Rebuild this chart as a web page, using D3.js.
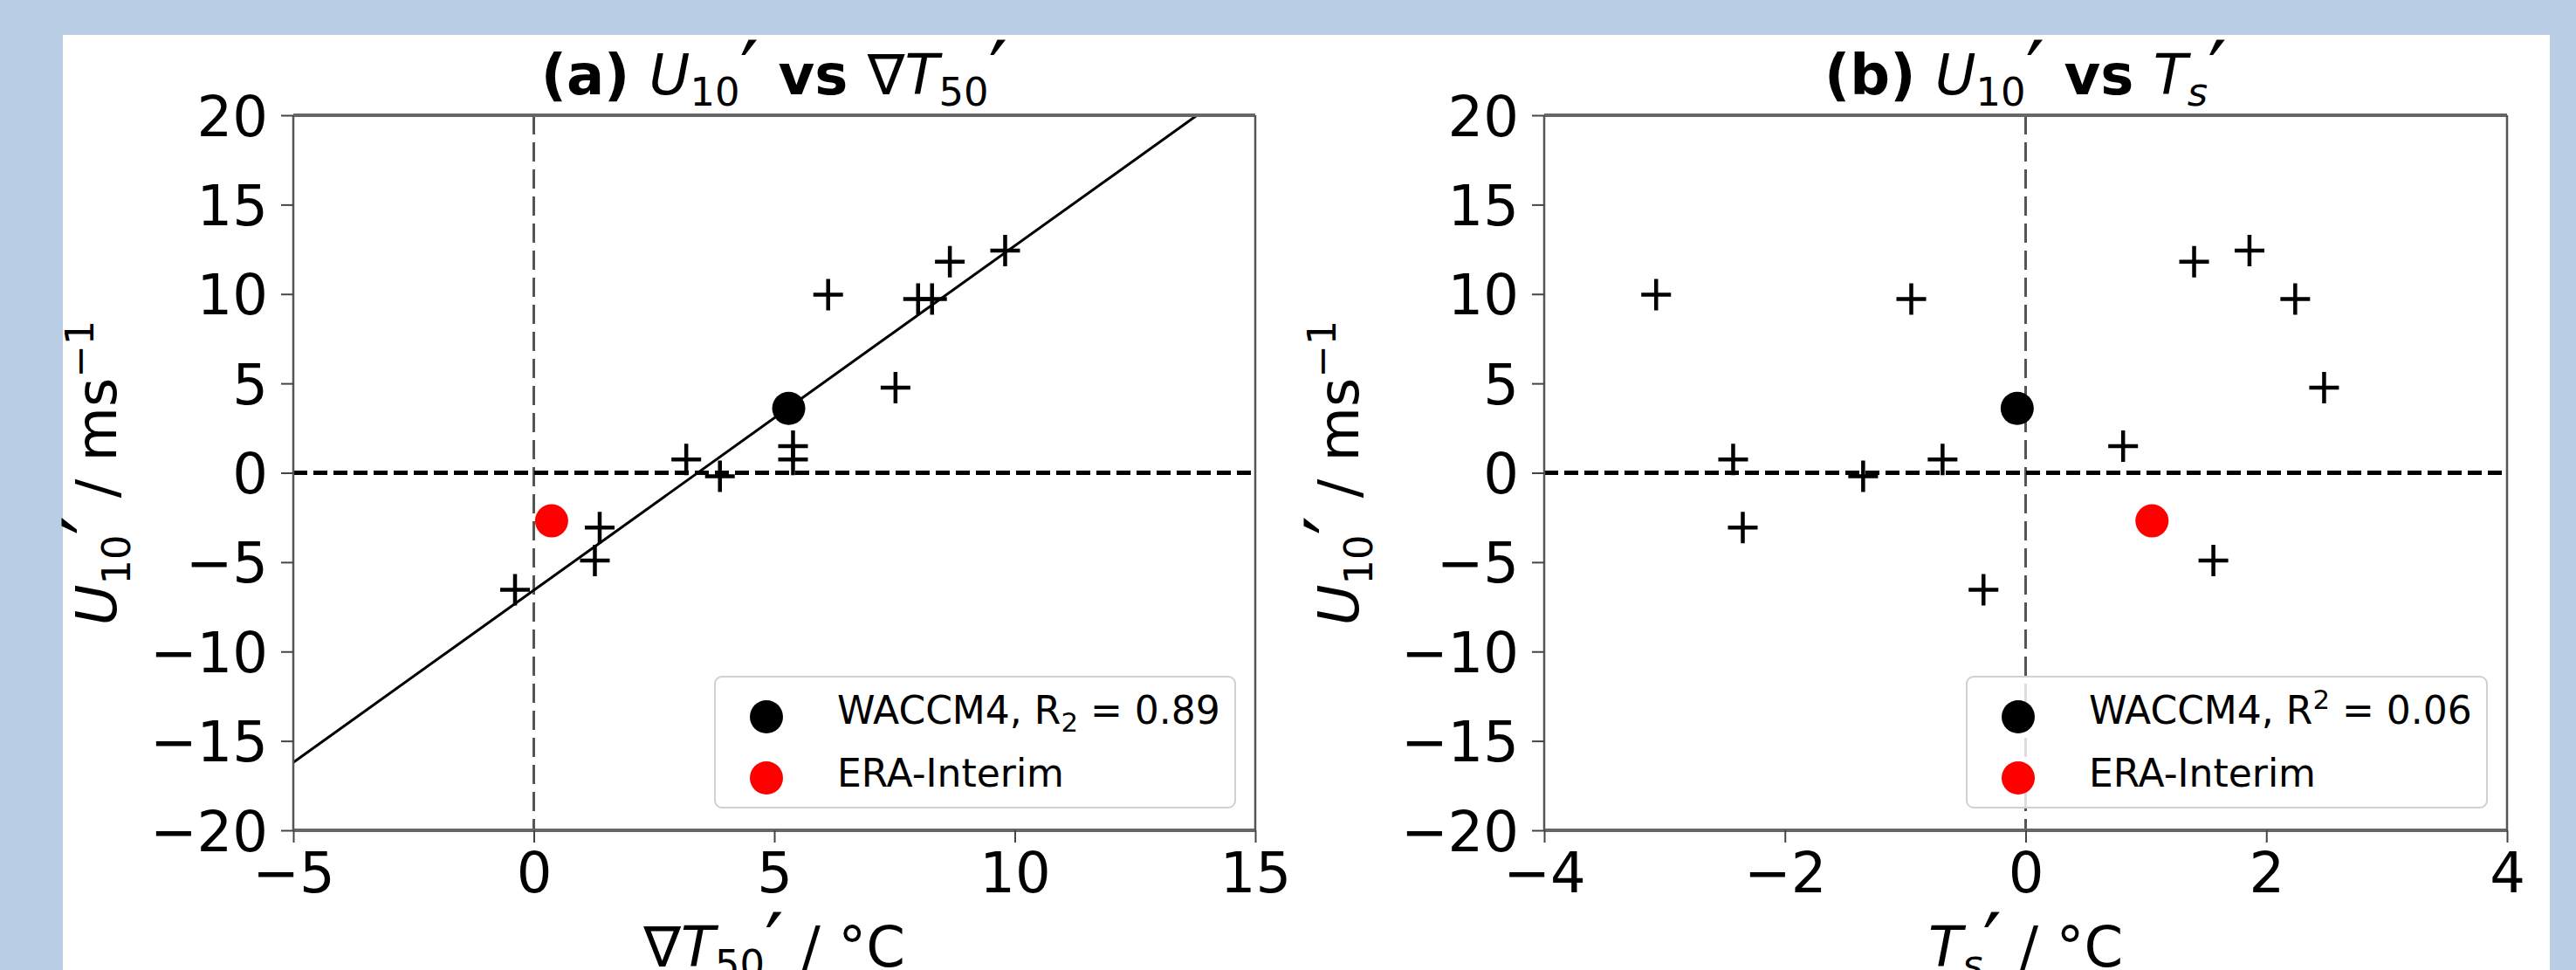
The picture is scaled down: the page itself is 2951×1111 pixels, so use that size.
<!DOCTYPE html>
<html>
<head>
<meta charset="utf-8">
<script src="https://cdn.jsdelivr.net/npm/d3@7"></script>
<style>
  html, body { margin: 0; padding: 0; background: #b9cde5; }
  svg { display: block; }
  text { font-family: "DejaVu Sans", sans-serif; fill: #000; white-space: pre; }
</style>
</head>
<body>
<svg id="fig" width="2951" height="1111"></svg>
<script>
// U10' anomalies of the ensemble members (same for both panels)
var u10 = [9.96, 9.72, 9.72, 11.81, 12.43, 4.76, 1.49, 0.75, 0.75, -0.19, -3.07, -4.91, -6.54];
// matching grad T50' (panel a) and Ts' (panel b)
var dT50 = [6.12, 7.99, 8.28, 8.65, 9.80, 7.52, 5.39, 5.39, 3.17, 3.87, 1.37, 1.27, -0.39];
var Ts = [-3.07, -0.95, 2.24, 1.40, 1.86, 2.48, 0.81, -2.43, -0.69, -1.35, -2.35, 1.56, -0.35];

// ensemble mean and reanalysis, [x, y] for panel a then b
var waccmMean = [[5.30, 3.6], [-0.07, 3.6]];
var eraInterim = [[0.37, -2.69], [1.05, -2.69]];

// regression line of panel a
var fitLineX = [-5, 13.79];
var fitLineY = [-16.2, 20];

var yTicks = [-20, -15, -10, -5, 0, 5, 10, 15, 20];
var xTicksA = [-5, 0, 5, 10, 15];
var xTicksB = [-4, -2, 0, 2, 4];
var legendNames = ['WACCM4', 'ERA-Interim'];

(function() {
  var width = 2951, height = 1111;
  var plotTop = 132, plotBottom = 951;

  var svg = d3.select('#fig');
  svg.append('rect').attr('width', width).attr('height', height).attr('fill', '#b9cde5');
  svg.append('rect').attr('x', 72).attr('y', 40).attr('width', 2921 - 72).attr('height', height - 40).attr('fill', '#fff');

  // text with sub/superscripts; shift is in em, positive goes down
  function rich(textSel, parts, fs) {
    var cur = 0;
    parts.forEach(function(p) {
      var shift = (p.shift || 0) * fs;
      var ts = textSel.append('tspan').text(p.t).attr('dy', shift - cur);
      cur = shift;
      if (p.size) ts.attr('font-size', fs * p.size);
      if (p.italic) ts.attr('font-style', 'italic');
      if (p.bold) ts.attr('font-weight', 'bold');
    });
  }

  var SUB = 0.2, SUP = -0.4;
  var prime = {t: '′', shift: 0.12, size: 1.5};

  var panels = [
    {
      left: 336, right: 1438, xDomain: [-5, 15], xTicks: xTicksA, xs: dT50, idx: 0, fit: true, ylabOff: -203,
      title: [{t: '(a) ', bold: true}, {t: 'U', italic: true}, {t: '10', shift: SUB, size: 0.7}, prime,
              {t: ' vs ', bold: true}, {t: '∇'}, {t: 'T', italic: true}, {t: '50', shift: SUB, size: 0.7}, prime],
      xlabel: [{t: '∇'}, {t: 'T', italic: true}, {t: '50', shift: SUB, size: 0.7}, prime, {t: ' / °C'}],
      legend: [{t: legendNames[0] + ', R'}, {t: '2', shift: 0.2, size: 0.7}, {t: ' = 0.89'}]
    },
    {
      left: 1769, right: 2872, xDomain: [-4, 4], xTicks: xTicksB, xs: Ts, idx: 1, fit: false, ylabOff: -213,
      title: [{t: '(b) ', bold: true}, {t: 'U', italic: true}, {t: '10', shift: SUB, size: 0.7}, prime,
              {t: ' vs ', bold: true}, {t: 'T', italic: true}, {t: 's', italic: true, shift: SUB, size: 0.7}, prime],
      xlabel: [{t: 'T', italic: true}, {t: 's', italic: true, shift: SUB, size: 0.7}, prime, {t: ' / °C'}],
      legend: [{t: legendNames[0] + ', R'}, {t: '2', shift: -0.38, size: 0.7}, {t: ' = 0.06'}]
    }
  ];

  var ylabel = [{t: 'U', italic: true}, {t: '10', shift: 0.25, size: 0.7}, prime, {t: ' / ms'}, {t: '−1', shift: SUP, size: 0.7}];

  panels.forEach(function(p) {
    var x = d3.scaleLinear().domain(p.xDomain).range([p.left, p.right]);
    var y = d3.scaleLinear().domain([-20, 20]).range([plotBottom, plotTop]);
    var g = svg.append('g');

    // zero lines
    g.append('line')
      .attr('x1', x(0)).attr('x2', x(0)).attr('y1', plotTop).attr('y2', plotBottom)
      .attr('stroke', '#555').attr('stroke-width', 3).attr('stroke-dasharray', '22,9');
    g.append('line')
      .attr('x1', p.left).attr('x2', p.right).attr('y1', y(0)).attr('y2', y(0))
      .attr('stroke', '#000').attr('stroke-width', 5).attr('stroke-dasharray', '16,7');

    if (p.fit) {
      g.append('path')
        .datum(d3.zip(fitLineX, fitLineY))
        .attr('d', d3.line().x(d => x(d[0])).y(d => y(d[1])))
        .attr('fill', 'none').attr('stroke', '#000').attr('stroke-width', 3);
    }

    // members
    g.selectAll('path.member')
      .data(d3.zip(p.xs, u10))
      .join('path')
      .attr('class', 'member')
      .attr('transform', d => `translate(${x(d[0])},${y(d[1])})`)
      .attr('d', 'M-17,0H17M0,-18V18')
      .attr('stroke', '#000').attr('stroke-width', 4.5).attr('fill', 'none');

    var m = waccmMean[p.idx], e = eraInterim[p.idx];
    g.append('circle').attr('cx', x(m[0])).attr('cy', y(m[1])).attr('r', 19).attr('fill', '#000');
    g.append('circle').attr('cx', x(e[0])).attr('cy', y(e[1])).attr('r', 19).attr('fill', '#f00');

    // spines
    [plotTop, plotBottom].forEach(function(v) {
      g.append('line').attr('x1', p.left).attr('x2', p.right).attr('y1', v).attr('y2', v)
        .attr('stroke', '#666').attr('stroke-width', 4);
    });
    [p.left, p.right].forEach(function(v) {
      g.append('line').attr('x1', v).attr('x2', v).attr('y1', plotTop).attr('y2', plotBottom)
        .attr('stroke', '#555').attr('stroke-width', 2.5);
    });

    // axes
    var yg = g.append('g').attr('transform', `translate(${p.left},0)`)
      .call(d3.axisLeft(y).tickValues(yTicks).tickSize(14).tickPadding(15).tickSizeOuter(0));
    var xg = g.append('g').attr('transform', `translate(0,${plotBottom})`)
      .call(d3.axisBottom(x).tickValues(p.xTicks).tickSize(14).tickSizeOuter(0));
    [yg, xg].forEach(function(ax) {
      ax.attr('font-size', 64).attr('font-family', '"DejaVu Sans", sans-serif');
      ax.select('.domain').remove();
      ax.selectAll('.tick line').attr('stroke', '#444').attr('stroke-width', 2);
      ax.selectAll('.tick text').attr('fill', '#000');
    });
    yg.selectAll('.tick text').attr('dy', '0.36em');
    xg.selectAll('.tick text').attr('y', 71).attr('dy', 0);

    // title and labels
    var cx = (p.left + p.right) / 2;
    rich(svg.append('text').attr('x', cx).attr('y', 108).attr('text-anchor', 'middle').attr('font-size', 64), p.title, 64);
    rich(svg.append('text').attr('x', cx).attr('y', 1107).attr('text-anchor', 'middle').attr('font-size', 64), p.xlabel, 64);
    rich(svg.append('text')
      .attr('transform', `translate(${p.left + p.ylabOff},${(plotTop + plotBottom) / 2}) rotate(-90)`)
      .attr('text-anchor', 'middle').attr('font-size', 64), ylabel, 64);

    // legend
    var lw = 596, lh = 150;
    var lx = p.right - 23 - lw, ly = plotBottom - 26 - lh;
    var lg = svg.append('g').attr('transform', `translate(${lx},${ly})`);
    lg.append('rect').attr('width', lw).attr('height', lh).attr('rx', 8)
      .attr('fill', '#fff').attr('fill-opacity', 0.8).attr('stroke', '#d0d0d0').attr('stroke-width', 2);
    lg.append('circle').attr('cx', 59).attr('cy', 46).attr('r', 19).attr('fill', '#000');
    lg.append('circle').attr('cx', 59).attr('cy', 116).attr('r', 19).attr('fill', '#f00');
    rich(lg.append('text').attr('x', 140).attr('y', 54).attr('font-size', 44), p.legend, 44);
    lg.append('text').attr('x', 140).attr('y', 126).attr('font-size', 44).text(legendNames[1]);
  });
})();
</script>
</body>
</html>
